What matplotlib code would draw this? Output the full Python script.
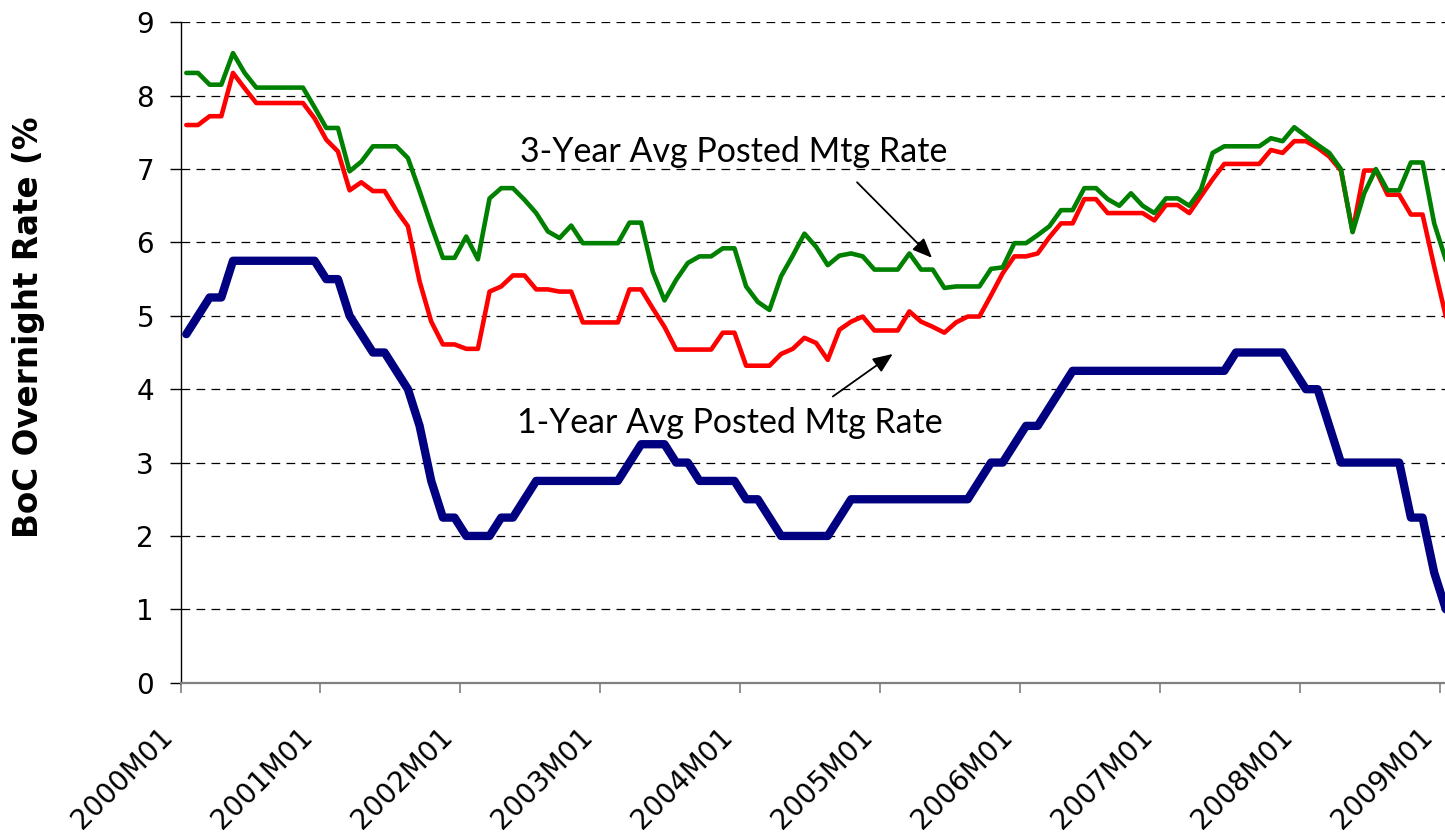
import matplotlib
matplotlib.use("Agg")
import matplotlib.pyplot as plt
from matplotlib.transforms import ScaledTranslation
import numpy as np

plt.rcParams["font.family"] = ["DejaVu Sans"]

# ---------------- data ----------------
months = [f"{y}M{m:02d}" for y in range(2000, 2010) for m in range(1, 13)][:109]
tick_labels = [f"{y}M01" for y in range(2000, 2010)]

boc_overnight = [
    4.75, 5.00, 5.25, 5.25, 5.75, 5.75, 5.75, 5.75, 5.75, 5.75, 5.75, 5.75,
    5.50, 5.50, 5.00, 4.75, 4.50, 4.50, 4.25, 4.00, 3.50, 2.75, 2.25, 2.25,
    2.00, 2.00, 2.00, 2.25, 2.25, 2.50, 2.75, 2.75, 2.75, 2.75, 2.75, 2.75,
    2.75, 2.75, 3.00, 3.25, 3.25, 3.25, 3.00, 3.00, 2.75, 2.75, 2.75, 2.75,
    2.50, 2.50, 2.25, 2.00, 2.00, 2.00, 2.00, 2.00, 2.25, 2.50, 2.50, 2.50,
    2.50, 2.50, 2.50, 2.50, 2.50, 2.50, 2.50, 2.50, 2.75, 3.00, 3.00, 3.25,
    3.50, 3.50, 3.75, 4.00, 4.25, 4.25, 4.25, 4.25, 4.25, 4.25, 4.25, 4.25,
    4.25, 4.25, 4.25, 4.25, 4.25, 4.25, 4.50, 4.50, 4.50, 4.50, 4.50, 4.25,
    4.00, 4.00, 3.50, 3.00, 3.00, 3.00, 3.00, 3.00, 3.00, 2.25, 2.25, 1.50,
    1.00,
]

mtg_1yr = [
    7.60, 7.60, 7.72, 7.72, 8.31, 8.10, 7.90, 7.90, 7.90, 7.90, 7.90, 7.69,
    7.40, 7.24, 6.71, 6.82, 6.70, 6.70, 6.44, 6.22, 5.47, 4.92, 4.61, 4.61,
    4.55, 4.55, 5.33, 5.40, 5.55, 5.55, 5.36, 5.36, 5.33, 5.33, 4.91, 4.91,
    4.91, 4.91, 5.36, 5.36, 5.10, 4.85, 4.54, 4.54, 4.54, 4.54, 4.77, 4.77,
    4.32, 4.32, 4.32, 4.48, 4.55, 4.70, 4.63, 4.40, 4.81, 4.92, 4.99, 4.80,
    4.80, 4.80, 5.06, 4.92, 4.85, 4.77, 4.91, 4.99, 4.99, 5.28, 5.58, 5.81,
    5.81, 5.85, 6.07, 6.26, 6.26, 6.59, 6.59, 6.40, 6.40, 6.40, 6.40, 6.30,
    6.51, 6.51, 6.40, 6.63, 6.86, 7.07, 7.07, 7.07, 7.07, 7.26, 7.22, 7.38,
    7.38, 7.29, 7.17, 6.98, 6.15, 6.98, 6.98, 6.65, 6.65, 6.38, 6.38, 5.67,
    4.99,
]

mtg_3yr = [
    8.31, 8.31, 8.15, 8.15, 8.58, 8.31, 8.11, 8.11, 8.11, 8.11, 8.11, 7.84,
    7.56, 7.56, 6.97, 7.10, 7.31, 7.31, 7.31, 7.15, 6.70, 6.23, 5.79, 5.79,
    6.08, 5.77, 6.60, 6.74, 6.74, 6.58, 6.40, 6.15, 6.06, 6.23, 5.99, 5.99,
    5.99, 5.99, 6.27, 6.27, 5.60, 5.21, 5.49, 5.72, 5.81, 5.81, 5.92, 5.92,
    5.40, 5.19, 5.08, 5.54, 5.82, 6.12, 5.94, 5.69, 5.82, 5.85, 5.81, 5.63,
    5.63, 5.63, 5.85, 5.63, 5.63, 5.38, 5.40, 5.40, 5.40, 5.64, 5.66, 5.99,
    5.99, 6.10, 6.22, 6.44, 6.44, 6.74, 6.74, 6.59, 6.50, 6.67, 6.50, 6.40,
    6.60, 6.60, 6.50, 6.72, 7.22, 7.31, 7.31, 7.31, 7.31, 7.42, 7.38, 7.57,
    7.45, 7.33, 7.22, 7.00, 6.14, 6.67, 7.00, 6.71, 6.71, 7.09, 7.09, 6.26,
    5.76,
]

label_3yr = "3-Year Avg Posted Mtg Rate"
label_1yr = "1-Year Avg Posted Mtg Rate"
y_label = "BoC Overnight Rate (%"

# ---------------- figure ----------------
W, H = 1445, 836
fig = plt.figure(figsize=(W / 100, H / 100), dpi=100)
left_px, right_px, top_px, bot_px = 180.5, 1451.7, 22.3, 682.7
ax = fig.add_axes([left_px / W, 1 - bot_px / H,
                   (right_px - left_px) / W, (bot_px - top_px) / H])

x = np.arange(len(months))
common = dict(solid_joinstyle="round", solid_capstyle="round")
ax.plot(x, boc_overnight, color="#000080", lw=6.0, zorder=3, **common)
ax.plot(x, mtg_1yr, color="#FF0000", lw=3.3, zorder=4, **common)
ax.plot(x, mtg_3yr, color="#008000", lw=3.3, zorder=5, **common)

ax.set_xlim(-0.5, len(months) - 0.5)
ax.set_ylim(0, 9)
ax.set_yticks(range(0, 10))
ax.yaxis.grid(True, color="black", lw=0.9, linestyle=(0, (7, 5)))
ax.set_axisbelow(True)
ax.yaxis.get_gridlines()[0].set_visible(False)

ax.spines["top"].set_visible(False)
ax.spines["right"].set_visible(False)
ax.spines["left"].set_color("black")
ax.spines["left"].set_linewidth(1.0)
ax.spines["bottom"].set_color("#808080")
ax.spines["bottom"].set_linewidth(1.6)

ax.tick_params(axis="y", direction="out", length=8, width=1.0, color="black",
               pad=11, labelsize=20)
ax.set_xticks(np.arange(-0.5, len(months) - 1, 12))
ax.set_xticklabels(tick_labels)
ax.tick_params(axis="x", direction="out", length=7.5, width=1.2, color="#808080",
               pad=21, labelsize=20)
offset = ScaledTranslation(-1.5 / 72, 0, fig.dpi_scale_trans)
for lab in ax.get_xticklabels():
    lab.set_rotation(45)
    lab.set_ha("right")
    lab.set_transform(lab.get_transform() + offset)

fig.text(29 / W, 1 - 327 / H, y_label, rotation=90, fontsize=23.5,
         fontweight="bold", ha="center", va="center")

# ---------------- annotations ----------------
t3 = ax.text(46.96, 7.10, label_3yr, fontfamily=["Lato"], fontsize=24,
             ha="center", va="baseline", color="black", zorder=6)
t1 = ax.text(46.62, 3.40, label_1yr, fontfamily=["Lato"], fontsize=24,
             ha="center", va="baseline", color="black", zorder=6)
fig.canvas.draw()
r = fig.canvas.get_renderer()
for t, target in ((t3, 428), (t1, 426)):
    bb = t.get_window_extent(r)
    t.set_fontsize(t.get_fontsize() * target / bb.width)

arrow = dict(arrowstyle="-|>,head_length=0.6,head_width=0.25", color="black",
             lw=1.3, mutation_scale=20, shrinkA=0, shrinkB=0)
ax.annotate("", xy=(63.94, 5.79), xytext=(57.51, 6.82), arrowprops=arrow, zorder=6)
ax.annotate("", xy=(60.57, 4.48), xytext=(55.43, 3.90), arrowprops=arrow, zorder=6)

fig.savefig("out.png", dpi=100)
